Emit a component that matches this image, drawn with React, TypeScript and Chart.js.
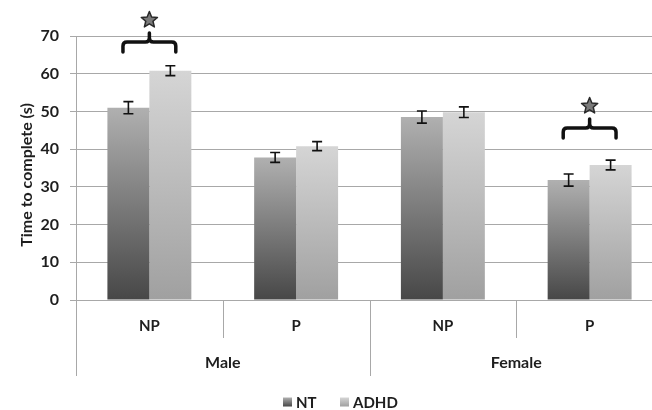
import React, { useEffect, useRef } from "react";
import { Chart, registerables } from "chart.js";

Chart.register(...registerables);

const subLabels = ["NP", "P", "NP", "P"];
const groupLabels = ["Male", "Female"];
const seriesNames = ["NT", "ADHD"];
const ntValues = [51.0, 37.8, 48.5, 31.8];
const adhdValues = [60.8, 40.8, 49.8, 35.8];
const ntErrors = [1.6, 1.3, 1.6, 1.6];
const adhdErrors = [1.3, 1.2, 1.4, 1.3];
const yTicks = [0, 10, 20, 30, 40, 50, 60, 70];
const yTitle = "Time to complete (s)";
const sigCategories = [0, 3];
const sigLevels = [68.4, 45.6];

const FONT = "Lato, 'Open Sans', sans-serif";
const GRID = "#a8a8a8";

const gradStops = [
  ["#474747", "#b0b0b0"],
  ["#a0a0a0", "#d5d5d5"],
];

function makeGradient(ctx: any, dsIndex: number) {
  const chart = ctx.chart;
  const yScale = chart.scales && chart.scales.y;
  const cols = gradStops[dsIndex];
  if (!yScale || ctx.type !== "data") return cols[0];
  const v = ctx.raw as number;
  const top = yScale.getPixelForValue(v);
  const bottom = yScale.getPixelForValue(0);
  if (!isFinite(top) || !isFinite(bottom) || top === bottom) return cols[0];
  const g = chart.ctx.createLinearGradient(0, bottom, 0, top);
  g.addColorStop(0, cols[0]);
  g.addColorStop(1, cols[1]);
  return g;
}

function drawStar(c: CanvasRenderingContext2D, cx: number, cy: number, ro: number, ri: number) {
  c.beginPath();
  for (let i = 0; i < 10; i++) {
    const r = i % 2 === 0 ? ro : ri;
    const a = -Math.PI / 2 + (i * Math.PI) / 5;
    const x = cx + r * Math.cos(a);
    const y = cy + r * Math.sin(a);
    if (i === 0) c.moveTo(x, y);
    else c.lineTo(x, y);
  }
  c.closePath();
  c.fillStyle = "#7a7a7a";
  c.fill();
  c.lineWidth = 1.5;
  c.strokeStyle = "#2a2a2a";
  c.stroke();
}

const overlayPlugin = {
  id: "overlay",
  afterDatasetsDraw(chart: any) {
    const c: CanvasRenderingContext2D = chart.ctx;
    const xs = chart.scales.x;
    const ys = chart.scales.y;
    const left = xs.left;
    const right = xs.right;
    const n = subLabels.length;
    const w = (right - left) / n;
    const base = ys.getPixelForValue(0);

    // error bars
    const errs = [ntErrors, adhdErrors];
    const vals = [ntValues, adhdValues];
    for (let d = 0; d < 2; d++) {
      const meta = chart.getDatasetMeta(d);
      meta.data.forEach((bar: any, i: number) => {
        const x = bar.x;
        const yT = ys.getPixelForValue(vals[d][i] + errs[d][i]);
        const yB = ys.getPixelForValue(vals[d][i] - errs[d][i]);
        c.save();
        c.strokeStyle = "#111";
        c.lineWidth = 1.6;
        c.beginPath();
        c.moveTo(x, yT);
        c.lineTo(x, yB);
        c.moveTo(x - 5, yT);
        c.lineTo(x + 5, yT);
        c.moveTo(x - 5, yB);
        c.lineTo(x + 5, yB);
        c.stroke();
        c.restore();
      });
    }

    // braces + stars
    sigCategories.forEach((cat, k) => {
      const xc = xs.getPixelForValue(cat);
      const yH = ys.getPixelForValue(sigLevels[k]);
      const hw = w * 0.18;
      const r = 4;
      const drop = 10;
      const tip = 9;
      c.save();
      c.strokeStyle = "#111";
      c.lineWidth = 3.5;
      c.lineCap = "round";
      c.lineJoin = "round";
      c.beginPath();
      c.moveTo(xc - hw, yH + drop);
      c.lineTo(xc - hw, yH + r);
      c.quadraticCurveTo(xc - hw, yH, xc - hw + r, yH);
      c.lineTo(xc - r, yH);
      c.quadraticCurveTo(xc, yH, xc, yH - r);
      c.lineTo(xc, yH - tip);
      c.moveTo(xc, yH - r);
      c.quadraticCurveTo(xc, yH, xc + r, yH);
      c.lineTo(xc + hw - r, yH);
      c.quadraticCurveTo(xc + hw, yH, xc + hw, yH + r);
      c.lineTo(xc + hw, yH + drop);
      c.stroke();
      drawStar(c, xc, yH - tip - 13, 8.5, 3.8);
      c.restore();
    });

    // x axis separators and labels
    c.save();
    c.strokeStyle = GRID;
    c.lineWidth = 1;
    for (let i = 0; i <= n; i++) {
      const x = Math.round(left + i * w) + 0.5;
      const long = i % 2 === 0;
      c.beginPath();
      c.moveTo(x, base);
      c.lineTo(x, base + (long ? 76 : 38));
      c.stroke();
    }
    c.fillStyle = "#1e1e1e";
    c.textAlign = "center";
    c.textBaseline = "middle";
    c.font = `bold 15px ${FONT}`;
    subLabels.forEach((lab, i) => {
      c.fillText(lab, left + (i + 0.5) * w, base + 26);
    });
    c.font = `bold 16px ${FONT}`;
    groupLabels.forEach((lab, g) => {
      c.fillText(lab, left + (g * 2 + 1) * w, base + 63);
    });

    // y title
    c.save();
    c.translate(27, 175);
    c.rotate(-Math.PI / 2);
    c.font = `bold 16px ${FONT}`;
    c.fillText(yTitle, 0, 0);
    c.restore();

    // legend
    const ly = 402;
    const sw = 9;
    const legendX = [283, 340];
    seriesNames.forEach((name, d) => {
      const g = c.createLinearGradient(0, ly + sw / 2, 0, ly - sw / 2);
      g.addColorStop(0, gradStops[d][0]);
      g.addColorStop(1, gradStops[d][1]);
      c.fillStyle = g;
      c.fillRect(legendX[d], ly - sw / 2, sw, sw);
      c.fillStyle = "#1e1e1e";
      c.textAlign = "left";
      c.font = `bold 15px ${FONT}`;
      c.fillText(name, legendX[d] + sw + 4, ly + 1);
    });
    c.restore();
  },
};

export default function App() {
  const ref = useRef<HTMLCanvasElement>(null);
  useEffect(() => {
    if (!ref.current) return;
    const chart = new Chart(ref.current, {
      type: "bar",
      data: {
        labels: subLabels.map((s, i) => `${groupLabels[Math.floor(i / 2)]} ${s}`),
        datasets: [
          {
            label: seriesNames[0],
            data: ntValues,
            backgroundColor: (ctx: any) => makeGradient(ctx, 0),
            borderWidth: 0,
            categoryPercentage: 0.572,
            barPercentage: 1,
          },
          {
            label: seriesNames[1],
            data: adhdValues,
            backgroundColor: (ctx: any) => makeGradient(ctx, 1),
            borderWidth: 0,
            categoryPercentage: 0.572,
            barPercentage: 1,
          },
        ],
      },
      options: {
        responsive: false,
        animation: false,
        layout: { padding: { top: 36, right: 9, left: 0, bottom: 0 } },
        plugins: { legend: { display: false }, tooltip: { enabled: false } },
        scales: {
          x: {
            grid: { display: false },
            ticks: { display: false },
            border: { display: true, color: GRID, width: 1 },
            afterFit: (s: any) => {
              s.height = 110;
            },
          },
          y: {
            min: 0,
            max: 70,
            afterBuildTicks: (s: any) => {
              s.ticks = yTicks.map((v) => ({ value: v }));
            },
            ticks: {
              color: "#1e1e1e",
              font: { family: FONT, size: 16, weight: "bold" },
              padding: 11,
            },
            grid: { color: GRID, lineWidth: 1, tickLength: 6, drawTicks: true },
            border: { display: true, color: GRID, width: 1 },
            afterFit: (s: any) => {
              s.width = 76;
            },
          },
        },
      },
      plugins: [overlayPlugin],
    });
    return () => chart.destroy();
  }, []);
  return (
    <div
      style={{
        position: "fixed",
        left: 0,
        top: 0,
        width: 652,
        height: 410,
        overflow: "hidden",
        background: "#fff",
      }}
    >
      <canvas ref={ref} width={672} height={410} style={{ display: "block" }} />
    </div>
  );
}
